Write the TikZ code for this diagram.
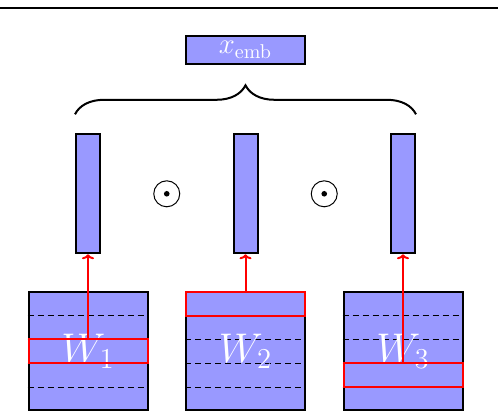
\documentclass[tikz,border=0pt]{standalone}
\usepackage{amsmath}
\usepackage{tikz}
\usetikzlibrary{positioning, calc, decorations.pathreplacing, arrows.meta}
\usepackage{xcolor}
\tikzstyle{wbox} = [rectangle,
minimum width=59.5pt,
minimum height=59pt,
inner sep=0pt,
line width=1pt,
draw=black,
fill=blue!40]
\tikzstyle{wname} = [text=white, font=\huge]
\tikzstyle{vec} = [rectangle,
minimum width=12pt,
minimum height=59.5pt,
inner sep=0pt,
line width=1pt,
draw=black,
fill=blue!40]
\tikzstyle{emb} = [rectangle,
minimum width=59.5pt,
minimum height=14pt,
inner sep=0pt,
line width=1pt,
draw=black,
fill=blue!40,
text=white,
font=\Large]
\tikzstyle{odot} = [circle, draw=black, line width=0.5pt,
minimum size=13pt, inner sep=0pt,
path picture={\fill (path picture bounding box.center) circle (1.4pt);}]
\tikzstyle{pick} = [rectangle,
minimum width=59.5pt,
minimum height=11.8pt,
inner sep=0pt,
line width=1pt,
draw=red]
\tikzstyle{rowline} = [line width=0.7pt, dash pattern=on 3pt off 2pt]
\tikzstyle{arrow} = [line width=1pt, red, -{To[width=6pt,length=2.5pt]}]
\tikzstyle{bracket} = [line width=1pt, decorate, decoration={brace, amplitude=14.5pt}]

\begin{document}
\begin{tikzpicture}[node distance=78.75pt]
        \useasboundingbox (0,0) rectangle (249pt,206pt);
        % top rule
        \coordinate (ruleL) at (0,202pt);
        \coordinate (ruleR) at (249pt,202pt);
        \draw [line width=1.2pt] (ruleL) -- (ruleR);

        % weight matrices
        \node (w2) [wbox] at (122.75pt,30.35pt) {};
        \node (w1) [wbox, left of=w2] {};
        \node (w3) [wbox, right of=w2] {};
        \foreach \w in {w1,w2,w3}
            \foreach \k in {1,...,4}
                \draw [rowline] ($(\w.north west)!\k/5!(\w.south west)$) -- ($(\w.north east)!\k/5!(\w.south east)$);
        \node (w1t) [wname] at (w1) {$W_1$};
        \node (w2t) [wname] at (w2) {$W_2$};
        \node (w3t) [wname] at (w3) {$W_3$};

        % selected rows
        \node (r1) [pick] at (w1) {};
        \node (r2) [pick, yshift=23.6pt] at (w2) {};
        \node (r3) [pick, yshift=-11.8pt] at (w3) {};

        % row vectors
        \node (v1) [vec, above of=w1] {};
        \node (v2) [vec, above of=w2] {};
        \node (v3) [vec, above of=w3] {};
        \node (o1) [odot] at ($(v1)!0.5!(v2)$) {};
        \node (o2) [odot] at ($(v2)!0.5!(v3)$) {};

        \draw [arrow] (r1) -- (v1);
        \draw [arrow] (r2) -- (v2);
        \draw [arrow] (r3) -- (v3);

        % embedding
        \draw [bracket] ([yshift=9.5pt]v1.north west) -- ([yshift=9.5pt]v3.north east);
        \node (xemb) [emb] at (122.75pt,181pt) {$x_{\text{emb}}$};
    \end{tikzpicture}
\end{document}
